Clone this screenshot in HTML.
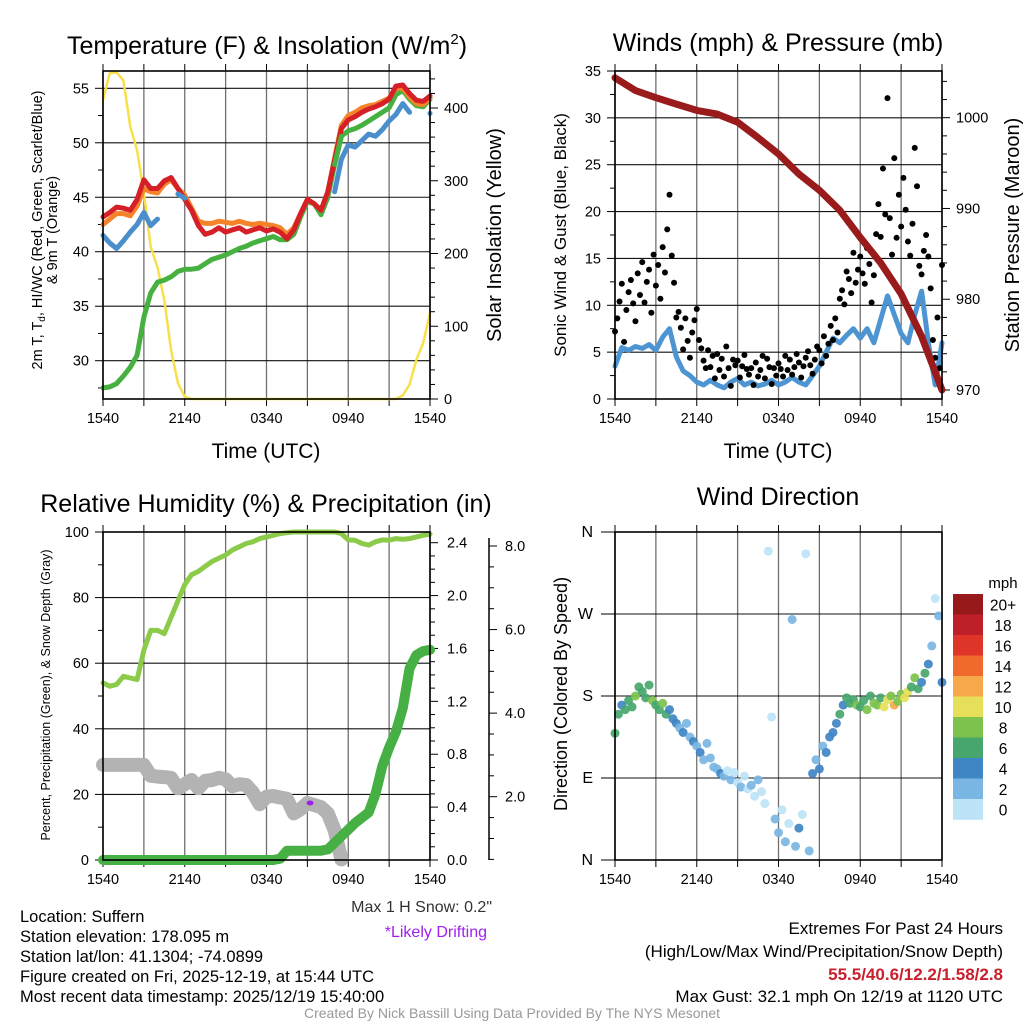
<!DOCTYPE html>
<html><head><meta charset="utf-8"><style>
html,body{margin:0;padding:0;background:#fff}
svg{display:block;font-family:"Liberation Sans",Arial,sans-serif}
</style></head><body>
<svg id="root" width="1024" height="1024" viewBox="0 0 1024 1024" xmlns="http://www.w3.org/2000/svg">
<rect width="1024" height="1024" fill="#fff"/>
<g id="g"></g>
<text x="267" y="54" font-size="25" text-anchor="middle">Temperature (F) &amp; Insolation (W/m<tspan font-size="15" dy="-10">2</tspan><tspan dy="10">)</tspan></text>
<text x="778" y="51" font-size="25" text-anchor="middle">Winds (mph) &amp; Pressure (mb)</text>
<text x="266" y="512" font-size="25" text-anchor="middle">Relative Humidity (%) &amp; Precipitation (in)</text>
<text x="778" y="505" font-size="25" text-anchor="middle">Wind Direction</text>
<text x="266" y="458" font-size="21" text-anchor="middle">Time (UTC)</text>
<text x="778" y="458" font-size="21" text-anchor="middle">Time (UTC)</text>
<text transform="translate(42,230) rotate(-90)" font-size="14.5" text-anchor="middle">2m T, T<tspan font-size="10" dy="3">d</tspan><tspan dy="-3">, HI/WC (Red, Green, Scarlet/Blue)</tspan></text>
<text transform="translate(57,230) rotate(-90)" font-size="14.5" text-anchor="middle">&amp; 9m T (Orange)</text>
<text transform="translate(501,235) rotate(-90)" font-size="20" text-anchor="middle">Solar Insolation (Yellow)</text>
<text transform="translate(566,235) rotate(-90)" font-size="17" text-anchor="middle">Sonic Wind &amp; Gust (Blue, Black)</text>
<text transform="translate(1019,235) rotate(-90)" font-size="20" text-anchor="middle">Station Pressure (Maroon)</text>
<text transform="translate(50,695) rotate(-90)" font-size="12.5" text-anchor="middle">Percent, Precipitation (Green), &amp; Snow Depth (Gray)</text>
<text transform="translate(567,694) rotate(-90)" font-size="18" text-anchor="middle">Direction (Colored By Speed)</text>
<text x="1003" y="588" font-size="15" text-anchor="middle">mph</text>
<text x="492" y="912" font-size="16" fill="#333" text-anchor="end">Max 1 H Snow: 0.2"</text>
<text x="487" y="937" font-size="16" fill="#a020f0" text-anchor="end">*Likely Drifting</text>
<g font-size="16.5">
<text x="20" y="922">Location: Suffern</text>
<text x="20" y="942">Station elevation: 178.095 m</text>
<text x="20" y="962">Station lat/lon: 41.1304; -74.0899</text>
<text x="20" y="982">Figure created on Fri, 2025-12-19, at 15:44 UTC</text>
<text x="20" y="1002">Most recent data timestamp: 2025/12/19 15:40:00</text>
</g>
<g font-size="17" text-anchor="end">
<text x="1003" y="934">Extremes For Past 24 Hours</text>
<text x="1003" y="957">(High/Low/Max Wind/Precipitation/Snow Depth)</text>
<text x="1003" y="980" fill="#c8202c" font-weight="bold">55.5/40.6/12.2/1.58/2.8</text>
<text x="1003" y="1002">Max Gust: 32.1 mph On 12/19 at 1120 UTC</text>
</g>
<text x="512" y="1018" font-size="14" fill="#999" text-anchor="middle">Created By Nick Bassill Using Data Provided By The NYS Mesonet</text>
</svg>
<script>
// ---- data (half-hour steps unless noted) ----
const xTickLabels = ["1540","2140","0340","0940","1540"];
const tempTicks = [30,35,40,45,50,55];
const solarTicks = [0,100,200,300,400];
const windTicks = [0,5,10,15,20,25,30,35];
const pressTicks = [970,980,990,1000];
const rhTicks = [0,20,40,60,80,100];
const precipTicks = [0.0,0.4,0.8,1.2,1.6,2.0,2.4];
const snowTicks = [2.0,4.0,6.0,8.0];
const dirTicks = ["N","E","S","W","N"];
const cbarLabels = ["0","2","4","6","8","10","12","14","16","18","20+"];
const cbarColors = ["#bde3f7","#7ab6e3","#3f86c5","#47a66d","#7dc24c","#e6df5a","#f6a84a","#ef6a2c","#df3529","#bf1f29","#98191c"];

const tempRed = [43.2,43.6,44.1,44,43.8,44.8,46.6,45.8,45.8,46.5,46.8,45.8,44.8,43.8,42.4,41.6,41.8,42.2,41.8,42.0,42.2,41.8,42,42.2,41.9,42.1,41.8,41.2,42,43.5,44.8,44.4,43.8,45.5,48.4,51.3,52.1,52.4,52.8,53.1,53.3,53.6,54,55.2,55.3,54.5,53.9,53.8,54.3];
const temp9m = [42.5,43,43.5,43.5,43.3,44.2,45.8,45.5,45.4,46.2,46.6,45.8,45.2,44,42.8,42.6,42.6,42.8,42.7,42.6,42.8,42.6,42.5,42.6,42.5,42.4,42.2,41.6,42.2,43.5,44.8,44.4,43.8,45.5,48.6,51.6,52.5,52.8,53.2,53.4,53.5,53.8,54.1,55,55,54.2,53.6,53.5,54.1];
const dewpoint = [27.5,27.6,27.9,28.6,29.4,30.5,34,36.2,37.2,37.4,37.7,38.2,38.4,38.4,38.5,38.9,39.3,39.5,39.7,40,40.3,40.5,40.8,41,41.2,41.4,41.1,41.1,41.6,43.2,44.6,44.4,43.4,45,48,50.6,51.1,51.3,51.6,52,52.4,52.8,53.2,54.4,54.8,54,53.4,53.3,54];
const windChill = [41.5,40.8,40.3,41,41.8,42.5,43.6,42.4,43,null,null,45.3,44.9,null,null,null,null,null,null,null,null,null,null,null,null,null,null,null,null,null,null,null,null,null,45.5,48.5,49.8,49.6,50.2,50.8,50.6,51.2,52,52.6,53.6,52.8,null,null,52.7];
const solar = [411,448,449,438,374,342,283,209,181,136,67,22,3,0,0,0,0,0,0,0,0,0,0,0,0,0,0,0,0,0,0,0,0,0,0,0,0,0,0,0,0,0,0,0,5,20,54,77,118];

const windSpeed = [3.5,5.5,5.2,5.6,5.4,5.8,5.2,6.6,7.5,4.5,3,2.5,1.8,1.5,2,1.5,1.2,1.8,2.2,1.5,1.8,1.4,1.6,2,1.5,1.8,2.3,1.8,1.5,2.5,3.5,5,6.5,6,6.8,7.5,6.5,7.5,6,8.5,11,9,7,6,9,11.5,6,1.5,6];
// gusts: 10-minute steps
const gusts = [7.2,8.6,10.4,12.3,6.1,9.5, 11.4,12.7,10.2,8.3,13.4,11.1, 14.6,10.3,12.5,13.8,9.2,15.4, 12.1,14.3,10.7,16.2,13.5,18.1, 21.8,15.3,12.4,8.7,9.3,7.6, 5.3,8.6,6.2,4.4,7.1,8.4, 9.6,6.3,5.4,4.1,3.3,5.2, 3.4,4.6,2.2,4.8,3.1,4.3, 2.4,5.6,3.3,1.4,4.2,3.6, 4.1,2.3,3.5,4.7,3.2,2.6, 3.3,1.5,3.9,2.4,3.1,4.6, 2.2,4.3,3.4,1.6,3.3,2.5, 3.8,3.2,2.4,4.6,3.1,4.2, 2.6,3.4,4.8,3.9,2.3,3.5, 4.4,5.1,3.6,2.7,4.2,5.6, 5.2,3.8,6.7,4.6,5.9,7.8, 6.3,8.6,7.1,10.7,11.6,10.1, 13.6,12.8,11.3,15.6,12.4,13.8, 15.2,13.4,12.3,16.1,14.4,10.3, 13.2,17.6,20.8,17.3,24.6,19.7, 32.1,19.3,15.4,25.7,17.2,21.8, 18.4,23.6,20.2,16.8,15.3,18.7, 26.8,22.7,14.2,13.3,15.8,17.5, 15.2,11.8,6.3,4.4,8.7,3.3, 14.3];
// pressure: 1.5-hour steps
const pressure = [1004.4,1003,1002.2,1001.5,1000.8,1000.4,999.5,997.8,996,993.8,992,989.8,986.8,984,980.6,975.9,970];

const relHum = [54,53,53.5,56,55.5,55,64,70,70,69,74,79,84,87,88,89.5,91,92,93,94.5,95.5,96.5,97,98,98.5,99,99.5,99.8,100,100,100,100,100,100,100,99.5,97.6,97.5,96.5,96,97,97.6,97.5,98,97.8,98,98.5,99,99.4];
const precip = [0,0,0,0,0,0,0,0,0,0,0,0,0,0,0,0,0,0,0,0,0,0,0,0,0,0,0.01,0.07,0.07,0.07,0.07,0.07,0.07,0.08,0.13,0.18,0.23,0.28,0.32,0.36,0.5,0.71,0.85,0.97,1.15,1.45,1.55,1.58,1.59];
const snowDepth = [2.76,2.76,2.76,2.76,2.76,2.76,2.76,2.5,2.48,2.47,2.45,2.2,2.3,2.4,2.2,2.38,2.4,2.45,2.42,2.25,2.3,2.28,2.1,1.82,2.0,2.02,1.98,1.95,1.6,1.7,1.85,1.8,1.75,1.6,1.2,0.5];
const driftPoint = [15.2,1.85];

// wind direction: 15-minute steps
const windDir = [139,160,170,165, 175,168,180,190, 185,178,192,175, 170,165,172,160, 165,155,150,145, 140,150,135,130, 125,118,110,128, 112,102,100,95, 92,98,88,96, 85,80,92,78, 82,70,88,75, 62,339,157,45, 30,55,20,40, 264,15,35,50, 336,10,95,110, 100,125,118,135, 140,150,160,170, 178,172,176,170, 168,175,165,180, 172,170,178,168, 176,180,170,174, 182,178,185,190, 200,188,195,205, 215,235,287,268, 195];
const dirSpeed = [6,7,5,6, 7,6,8,6, 7,6,7,8, 6,7,8,6, 5,4,4,3, 4,3,3,4, 3,4,3,2, 3,2,3,4, 2,1,2,1, 1,2,1,1, 2,1,3,1, 1,1,1,2, 3,1,2,1, 3,2,4,1, 1,3,4,3, 4,3,5,4, 4,5,6,5, 7,6,7,8, 6,7,8,7, 8,9,7,11, 10,9,12,8, 9,11,10,7, 8,7,5,6, 4,2,1,3, 5];

// ---- helpers ----
const NS="http://www.w3.org/2000/svg";
const G=document.getElementById('g');
function mk(tag,attrs,name,parent){
  const el=document.createElementNS(NS,tag);
  for(const k in attrs) el.setAttribute(k,attrs[k]);
  
  
  (parent||G).appendChild(el);
  return el;
}
function lin(d0,d1,r0,r1){return v=>r0+(v-d0)*(r1-r0)/(d1-d0);}
function linePath(vals,step,xs,ys){
  const segs=[];let cur=[];
  vals.forEach((v,i)=>{ if(v===null){ if(cur.length) segs.push(cur); cur=[]; } else cur.push([xs(i*step),ys(v)]); });
  if(cur.length) segs.push(cur);
  return segs;
}
function drawLine(vals,step,xs,ys,color,w,name){
  linePath(vals,step,xs,ys).forEach(s=>{
    if(s.length===1){ mk('circle',{cx:s[0][0],cy:s[0][1],r:w/2,fill:color},name); }
    else mk('path',{d:'M'+s.map(p=>p[0].toFixed(1)+','+p[1].toFixed(1)).join('L'),fill:'none',stroke:color,'stroke-width':w,'stroke-linejoin':'round','stroke-linecap':'round'},name);
  });
}
const L=[103,430], R=[615,942], T=[71,399], B=[532,860];
function frame(xr,yr,prefix){
  const xs=lin(0,24,xr[0],xr[1]);
  for(let h=0;h<=24;h+=3){
    const x=xs(h);
    mk('line',{x1:x,y1:yr[0],x2:x,y2:yr[1],stroke:'#707070','stroke-width':1.3},prefix+'-v-grid');
    mk('line',{x1:x,y1:yr[0]-7,x2:x,y2:yr[0],stroke:'#000','stroke-width':1},prefix+'-top-tick');
    mk('line',{x1:x,y1:yr[1],x2:x,y2:yr[1]+7,stroke:'#000','stroke-width':1},prefix+'-x-tick');
  }
  xTickLabels.forEach((t,i)=>{
    const tx=mk('text',{x:xs(i*6),y:yr[1]+24,'font-size':14.5,'text-anchor':'middle'},prefix+'-x-tick-label');
    tx.textContent=t;
  });
  return xs;
}
function border(xr,yr,prefix){
  mk('rect',{x:xr[0],y:yr[0],width:xr[1]-xr[0],height:yr[1]-yr[0],fill:'none',stroke:'#000','stroke-width':1.6},prefix+'-plot-border');
}
function hgrid(xr,y){ mk('line',{x1:xr[0],y1:y,x2:xr[1],y2:y,stroke:'#111','stroke-width':1.1},'h-grid'); }
function ytick(x,y,len,name){ mk('line',{x1:x,y1:y,x2:x+len,y2:y,stroke:'#000','stroke-width':1},name); }
function ylabel(x,y,txt,anchor,name,size){ const t=mk('text',{x:x,y:y+5,'font-size':size||14.5,'text-anchor':anchor},name); t.textContent=txt; }

// ---- Panel 1: temperature ----
(function(){
  const xs=frame(L,T,'temp');
  const yT=lin(30,55,360.7,88.3), yS=lin(0,400,399,108);
  tempTicks.forEach(v=>{ hgrid(L,yT(v)); ytick(L[0]-8,yT(v),8,'temp-y-tick'); ylabel(L[0]-14,yT(v),String(v),'end','temp-y-tick-label'); });
  for(let v=27.5;v<56;v+=5) ytick(L[0]-5,yT(v),5,'temp-minor-tick');
  for(let v=0;v<=440;v+=20) ytick(L[1],yS(v),v%100===0?8:5,'solar-tick');
  solarTicks.forEach(v=>ylabel(L[1]+14,yS(v),String(v),'start','solar-tick-label'));
  drawLine(solar,0.5,xs,yS,'#f7e04a',2.5,'solar-line');
  drawLine(dewpoint,0.5,xs,yT,'#46b040',5,'dewpoint-line');
  drawLine(temp9m,0.5,xs,yT,'#f5832a',5,'temp-9m-line');
  drawLine(tempRed,0.5,xs,yT,'#d42026',5,'temp-2m-line');
  drawLine(windChill,0.5,xs,yT,'#4a8fcc',5,'wind-chill-line');
  drawLine(dewpoint.slice(0,36).map((v,i)=>i>=34?v:null),0.5,xs,yT,'#46b040',5,'dewpoint-line-top');
  border(L,T,'temp');
})();

// ---- Panel 2: winds ----
(function(){
  const xs=frame(R,T,'wind');
  const yW=lin(0,35,399,71), yP=lin(970,1000,390,117.7);
  windTicks.forEach(v=>{ hgrid(R,yW(v)); ytick(R[0]-8,yW(v),8,'wind-y-tick'); ylabel(R[0]-14,yW(v),String(v),'end','wind-y-tick-label'); });
  for(let v=2.5;v<35;v+=5) ytick(R[0]-5,yW(v),5,'wind-minor-tick');
  for(let v=970;v<=1004;v+=2) ytick(R[1],yP(v),v%10===0?8:5,'pressure-tick');
  pressTicks.forEach(v=>ylabel(R[1]+14,yP(v),String(v),'start','pressure-tick-label'));
  drawLine(windSpeed,0.5,xs,yW,'#4d95d2',5,'wind-speed-line');
  gusts.forEach((v,i)=>mk('circle',{cx:xs(i/6),cy:yW(v),r:3,fill:'#000'},'gust-point'));
  drawLine(pressure,1.5,xs,yP,'#9a1b1b',7,'pressure-line');
  border(R,T,'wind');
})();

// ---- Panel 3: humidity ----
(function(){
  const xs=frame(L,B,'rh');
  const yR=lin(0,100,860,532), yPc=lin(0,2.4,860,542.7), ySn=lin(2,8,796.7,546);
  rhTicks.forEach(v=>{ hgrid(L,yR(v)); ytick(L[0]-8,yR(v),8,'rh-y-tick'); ylabel(L[0]-14,yR(v),String(v),'end','rh-y-tick-label'); });
  for(let v=10;v<100;v+=20) ytick(L[0]-5,yR(v),5,'rh-minor-tick');
  for(let v=0;v<=2.45;v+=0.1) ytick(L[1],yPc(v),Math.round(v*10)%4===0?8:5,'precip-tick');
  precipTicks.forEach(v=>ylabel(L[1]+17,yPc(v),v.toFixed(1),'start','precip-tick-label'));
  mk('line',{x1:489,y1:538,x2:489,y2:860,stroke:'#000','stroke-width':1.5},'snow-axis-line');
  for(let v=0.5;v<=8.01;v+=0.5) ytick(489,ySn(v),(v%2===0)?8:5,'snow-tick');
  snowTicks.forEach(v=>ylabel(505,ySn(v),v.toFixed(1),'start','snow-tick-label'));
  drawLine(relHum,0.5,xs,yR,'#8ccb4a',5,'humidity-line');
  drawLine(snowDepth,0.5,xs,ySn,'#b3b3b3',14,'snow-depth-line');
  drawLine(precip,0.5,xs,yPc,'#46b044',10,'precip-line');
  mk('ellipse',{cx:xs(driftPoint[0]),cy:ySn(driftPoint[1]),rx:3.5,ry:2.5,fill:'#a020f0'},'drifting-marker');
  border(L,B,'rh');
})();

// ---- Panel 4: wind direction ----
(function(){
  const xs=frame(R,B,'dir');
  const yD=lin(0,360,860,532);
  dirTicks.forEach((t,i)=>{ const y=yD(i*90); hgrid(R,y); ytick(R[0]-14,y,14,'dir-y-tick'); ylabel(R[0]-22,y,t,'end','dir-y-tick-label',16); });
  function col(s){ return cbarColors[Math.min(10,Math.floor(s/2))]; }
  windDir.forEach((d,i)=>mk('circle',{cx:xs(i/4),cy:yD(d),r:4.5,fill:col(dirSpeed[i]),'fill-opacity':0.92},'direction-point'));
  border(R,B,'dir');
  const top=594,h=20.5;
  cbarColors.slice().reverse().forEach((c,i)=>{
    mk('rect',{x:953,y:top+i*h,width:30,height:h+0.3,fill:c},'colorbar-bin');
  });
  cbarLabels.slice().reverse().forEach((t,i)=>{
    const tx=mk('text',{x:1003,y:top+i*h+h/2+6,'font-size':15.5,'text-anchor':'middle'},'colorbar-label');
    tx.textContent=t;
  });
})();
</script>
</body></html>
